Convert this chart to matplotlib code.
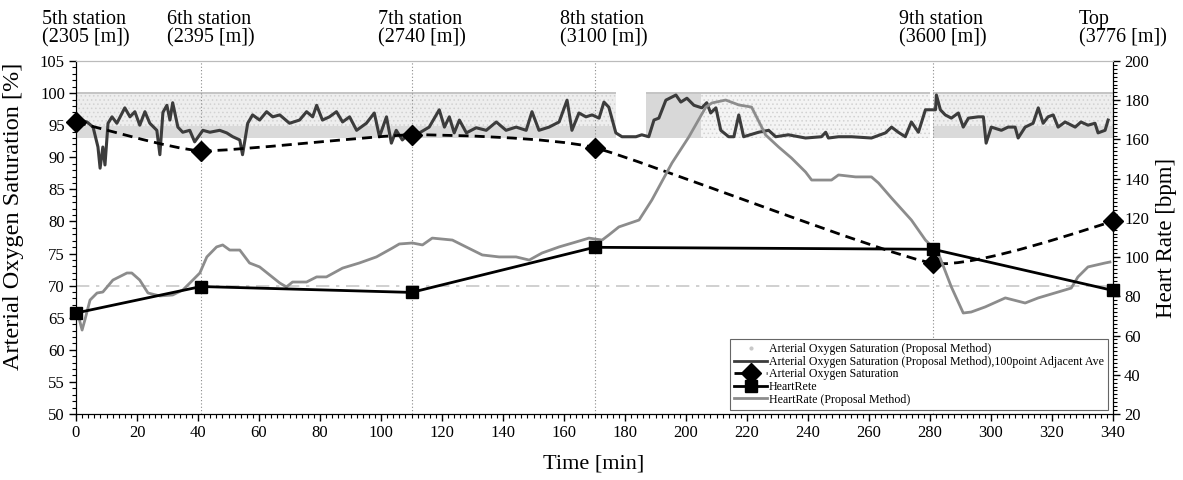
import numpy as np
import matplotlib
matplotlib.use("Agg")
import matplotlib.pyplot as plt
from matplotlib.path import Path
from matplotlib.patches import PathPatch
from matplotlib.lines import Line2D
from matplotlib.ticker import MultipleLocator
import matplotlib.transforms as mtransforms

plt.rcParams['font.family'] = ['Liberation Serif', 'DejaVu Serif']
plt.rcParams['hatch.linewidth'] = 0.6

# ---- station checkpoints ----
station_labels = ["5th station\n(2305 [m])", "6th station\n(2395 [m])",
                  "7th station\n(2740 [m])", "8th station\n(3100 [m])",
                  "9th station\n(3600 [m])", "Top\n(3776 [m])"]
station_time = [0, 41, 110, 170, 281, 340]
spo2_oximeter = [95.5, 91.0, 93.5, 91.5, 73.5, 80.0]
heart_rate_oximeter = [71.5, 85, 82, 105, 104, 83]

# ---- raw SpO2 (proposal method) range by time segment ----
raw_seg_start = [0, 187, 205, 281]
raw_seg_end = [177, 205, 280, 340]
raw_low = 93.0
raw_high = 100.0

# ---- SpO2 (proposal method), 100 point adjacent average ----
spo2_t = [0, 1.3, 3.6, 5.6, 7.2, 7.9, 8.8, 9.5, 10.5, 11.8, 13.4, 16.0, 17.7, 19.3,
          20.9, 22.6, 24.2, 26.5, 27.5, 28.5, 29.8, 30.8, 31.7, 33.4, 35.0, 37.3,
          38.9, 41.6, 43.9, 47.1, 49.4, 51.4, 53.7, 54.6, 56.3, 57.9, 60.2, 62.5,
          64.5, 66.8, 70.0, 73.3, 75.6, 77.6, 78.9, 80.8, 83.1, 85.4, 87.4, 89.7,
          92.0, 95.2, 97.8, 99.5, 101.8, 103.4, 105.0, 107.0, 109.3, 112.6, 115.8,
          119.1, 120.8, 122.4, 124.0, 125.7, 128.0, 131.2, 134.5, 137.8, 141.0,
          144.3, 147.6, 149.5, 151.8, 155.1, 158.4, 161.0, 162.6, 164.9, 167.2,
          169.2, 171.5, 173.1, 174.7, 177.0, 179.0, 183.6, 185.5, 187.8, 189.5,
          191.1, 193.4, 196.7, 198.3, 200.3, 202.6, 205.2, 206.8, 208.1, 209.8,
          211.4, 214.0, 215.7, 217.3, 218.9, 223.8, 227.1, 229.4, 233.6, 239.2,
          244.4, 245.8, 246.7, 250.0, 254.3, 260.8, 265.4, 267.4, 269.6, 271.9,
          273.9, 276.2, 278.5, 280.4, 281.8, 282.1, 283.4, 285.0, 287.0, 289.3,
          290.9, 292.6, 295.8, 297.5, 298.4, 300.1, 303.4, 305.6, 307.9, 308.9,
          311.2, 313.8, 315.5, 317.1, 318.7, 320.4, 322.0, 324.3, 327.6, 329.5,
          331.8, 334.1, 335.1, 337.4, 338.4]
spo2_avg = [95.8, 95.8, 95.5, 94.7, 91.6, 88.3, 91.6, 88.8, 95.3, 96.3, 95.3, 97.7,
            96.3, 97.1, 95.0, 97.1, 95.3, 94.2, 90.4, 97.0, 98.1, 95.8, 98.5, 94.7,
            93.9, 94.2, 92.4, 94.2, 93.9, 94.2, 93.8, 93.2, 92.7, 90.4, 95.3, 96.6,
            95.8, 97.1, 96.3, 96.6, 95.3, 95.8, 97.1, 96.3, 98.1, 95.8, 96.3, 97.1,
            95.5, 96.3, 94.2, 95.3, 96.9, 93.2, 96.3, 92.2, 94.2, 92.7, 93.8, 93.8,
            94.7, 97.4, 94.7, 96.3, 93.8, 95.8, 93.8, 94.6, 94.2, 95.5, 94.2, 94.7,
            94.2, 97.1, 94.2, 94.7, 95.5, 98.9, 94.2, 96.9, 96.3, 96.6, 96.1, 98.6,
            97.8, 93.8, 93.2, 93.2, 93.5, 93.2, 95.8, 96.1, 98.9, 99.7, 98.6, 99.2,
            98.1, 97.7, 98.5, 96.9, 97.7, 94.2, 93.2, 93.2, 96.6, 93.2, 93.9, 94.2,
            93.2, 93.5, 93.0, 93.2, 93.9, 93.0, 93.2, 93.2, 93.0, 93.8, 94.7, 93.9,
            93.2, 95.5, 93.9, 97.4, 97.4, 97.4, 99.7, 97.4, 96.6, 96.1, 96.9, 94.7,
            96.1, 96.3, 96.3, 92.2, 94.7, 94.2, 94.7, 94.7, 93.0, 94.7, 95.3, 97.7,
            95.3, 96.3, 96.6, 94.7, 95.5, 94.7, 95.5, 95.0, 95.3, 93.8, 94.2, 95.8]

# ---- heart rate (proposal method) ----
hr_t = [0.3, 2.0, 2.9, 4.6, 6.9, 8.8, 12.1, 16.7, 18.3, 20.9, 23.6, 27.5, 31.7, 35.0,
        38.3, 40.6, 42.9, 46.1, 48.1, 50.4, 53.7, 56.9, 60.2, 63.5, 66.8, 69.0, 71.0,
        75.6, 78.9, 82.1, 87.4, 92.9, 98.5, 103.7, 106.0, 110.3, 113.6, 116.8, 123.4,
        127.9, 133.2, 138.7, 144.3, 148.6, 152.8, 158.4, 163.9, 168.2, 172.5, 174.7,
        178.0, 184.6, 188.8, 195.4, 200.9, 206.5, 208.5, 213.0, 217.3, 221.5, 226.1,
        230.4, 234.6, 239.2, 241.2, 247.7, 250.0, 255.6, 260.8, 263.1, 267.4, 273.9,
        278.5, 282.7, 287.0, 290.9, 293.5, 298.1, 304.7, 311.2, 315.5, 322.0, 326.3,
        328.5, 331.8, 337.4, 339.0]
hr_proposal = [73.0, 62.8, 67.9, 78.1, 81.7, 82.2, 88.3, 91.9, 91.9, 88.3, 81.7, 80.2,
               80.7, 83.2, 88.3, 91.9, 100.1, 105.2, 106.2, 103.6, 103.6, 97.0, 95.0,
               90.9, 86.8, 84.8, 87.3, 87.3, 89.9, 89.9, 94.4, 97.0, 100.1, 104.6,
               106.7, 107.2, 106.2, 109.7, 108.7, 105.2, 101.1, 100.1, 100.1, 98.5,
               102.1, 105.2, 107.7, 109.7, 108.7, 111.3, 115.4, 118.9, 129.1, 148.0,
               161.2, 176.5, 178.6, 180.1, 177.6, 176.5, 162.3, 156.1, 150.5, 143.4,
               139.3, 139.3, 141.9, 140.9, 140.9, 137.8, 130.1, 118.9, 108.7, 102.1,
               84.8, 71.5, 72.0, 74.6, 79.2, 76.6, 79.2, 82.2, 84.2, 89.9, 95.0, 97.0,
               97.5]


def smooth_path(xs, ys, k=0.08):
    """Cardinal spline through the points, as cubic Bezier segments."""
    pts = np.column_stack([xs, ys]).astype(float)
    p = np.vstack([pts[0], pts, pts[-1]])
    verts = [tuple(pts[0])]
    codes = [Path.MOVETO]
    for i in range(1, len(p) - 2):
        p0, p1, p2, p3 = p[i - 1], p[i], p[i + 1], p[i + 2]
        verts += [tuple(p1 + (p2 - p0) * k), tuple(p2 - (p3 - p1) * k), tuple(p2)]
        codes += [Path.CURVE4] * 3
    return Path(verts, codes)


W, H = 1183, 480
fig = plt.figure(figsize=(W / 100, H / 100), dpi=100)
ax = fig.add_axes([76 / W, 66 / H, 1037 / W, 353 / H])
ax2 = ax.twinx()

ax.set_xlim(0, 340)
ax.set_ylim(50, 105)
ax2.set_ylim(20, 200)

# raw SpO2 cloud
seg_faces = ['#eeeeee', '#eeeeee', '#f4f4f4', '#eeeeee']
for s, e, fc in zip(raw_seg_start, raw_seg_end, seg_faces):
    ax.fill_between([s, e], raw_low, raw_high, facecolor=fc,
                    edgecolor='#d2d2d2', hatch='....', linewidth=0, zorder=1)
    ax.hlines(raw_high, s, e, color='#c4c4c4', lw=1.4, zorder=1.2)
for s, e in zip([raw_seg_start[0], raw_seg_start[3]], [raw_seg_end[0], raw_seg_end[3]]):
    ax.fill_between([s, e], raw_low, raw_low + 1.8, facecolor='#dadada',
                    linewidth=0, zorder=1.1)
ax.fill_between([raw_seg_start[1], raw_seg_end[1]], raw_low, raw_high,
                facecolor='#d8d8d8', linewidth=0, zorder=1.1)

# reference lines
ax.axhline(70, color='#c8c8c8', lw=1.2, ls=(0, (8, 4, 2, 4)), zorder=1.3)
for t in station_time[1:-1]:
    ax.axvline(t, color='#8a8a8a', lw=0.8, ls=(0, (1, 2)), zorder=1.4)

# averaged SpO2
ax.plot(spo2_t, spo2_avg, color='#3c3c3c', lw=2.2, zorder=3)

# oximeter SpO2 (smoothed dashed)
ax.add_patch(PathPatch(smooth_path(station_time, spo2_oximeter), fill=False,
                       edgecolor='black', lw=2, ls=(0, (3.6, 2.2)), zorder=4))
ax.plot(station_time, spo2_oximeter, ls='none', marker='D', ms=10,
        color='black', zorder=5, clip_on=False)

# heart rate
ax2.plot(hr_t, hr_proposal, color='#8c8c8c', lw=2, zorder=3)
ax2.plot(station_time, heart_rate_oximeter, color='black', lw=2, marker='s', ms=9,
         zorder=4, clip_on=False)

# ticks
for a in (ax, ax2):
    a.tick_params(which='major', direction='out', length=5, width=1, labelsize=12,
                  pad=3)
    a.tick_params(which='minor', direction='out', length=3, width=0.8)
ax.xaxis.set_major_locator(MultipleLocator(20))
ax.xaxis.set_minor_locator(MultipleLocator(2))
ax.yaxis.set_major_locator(MultipleLocator(5))
ax.yaxis.set_minor_locator(MultipleLocator(1))
ax2.yaxis.set_major_locator(MultipleLocator(20))
ax2.yaxis.set_minor_locator(MultipleLocator(2))
for a in (ax, ax2):
    a.spines['top'].set_color('#bbbbbb')
    a.spines['top'].set_linewidth(0.8)

ax.set_xlabel('Time [min]', fontsize=16)
ax.set_ylabel('Arterial Oxygen Saturation [%]', fontsize=17.5)
ax2.set_ylabel('Heart Rate [bpm]', fontsize=16.5)
ax.xaxis.set_label_coords(0.4995, -0.115)
ax.yaxis.set_label_coords(-0.05, 0.56)
ax2.yaxis.set_label_coords(1.041, 0.5)

# station names above the plot
trans = mtransforms.blended_transform_factory(ax.transData, fig.transFigure)
shift = mtransforms.ScaledTranslation(-34 / 100, 0, fig.dpi_scale_trans)
for t, lab in zip(station_time, station_labels):
    fig.text(t, 1 - 10 / H, lab, transform=trans + shift, ha='left', va='top',
             fontsize=14.5, linespacing=0.95)

# legend
handles = [
    Line2D([], [], ls='none', marker='.', ms=4, color='#c8c8c8'),
    Line2D([], [], color='#3c3c3c', lw=2),
    Line2D([], [], color='black', lw=2, ls=(0, (3.6, 2.2)), marker='D', ms=10),
    Line2D([], [], color='black', lw=2, marker='s', ms=9),
    Line2D([], [], color='#8c8c8c', lw=2),
]
labels = ['Arterial Oxygen Saturation (Proposal Method)',
          'Arterial Oxygen Saturation (Proposal Method),100point Adjacent Ave',
          'Arterial Oxygen Saturation',
          'HeartRete',
          'HeartRate (Proposal Method)']
leg = ax2.legend(handles, labels, loc='lower right', bbox_to_anchor=(0.995, 0.012),
                 fontsize=8.6, frameon=True, fancybox=False, framealpha=1,
                 edgecolor='#666666', borderpad=0.35, labelspacing=0.05,
                 handlelength=2.8, handletextpad=0.1, borderaxespad=0)
leg.get_frame().set_linewidth(0.8)

fig.savefig('out.png', dpi=100)
